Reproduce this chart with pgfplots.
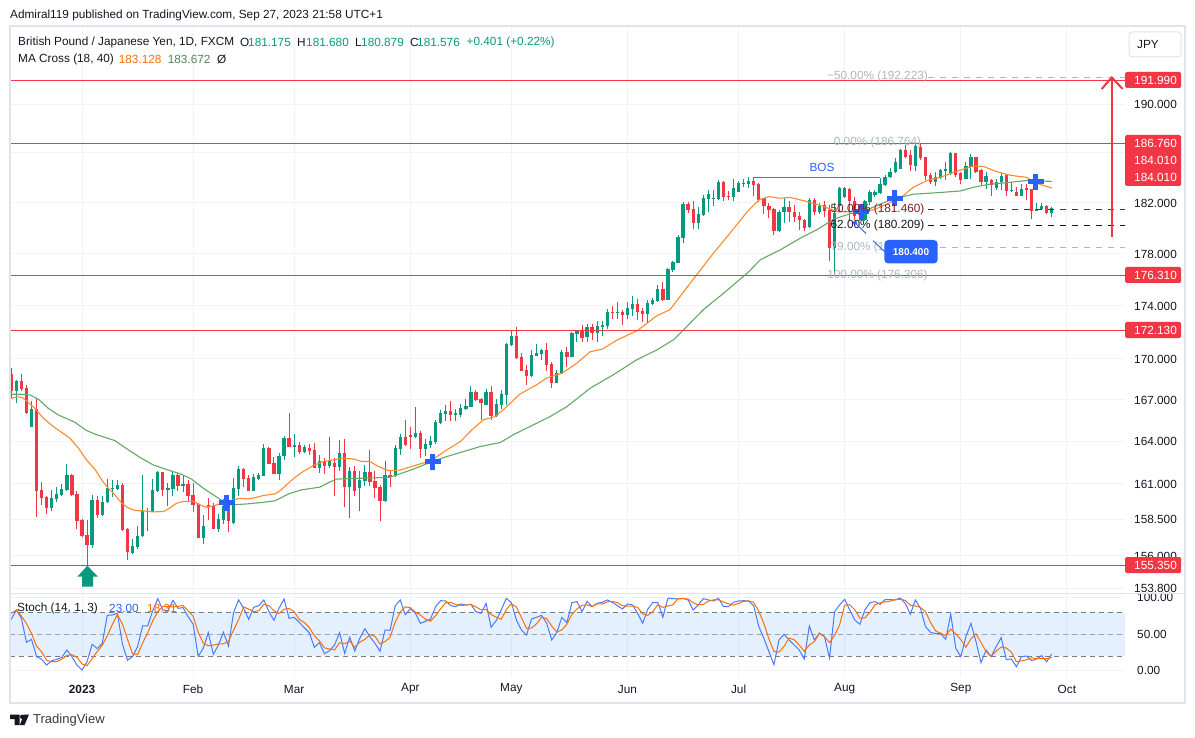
\documentclass[border=0pt]{standalone}
\usepackage{pgfplots}
\usepackage{pgfplotstable}
\usepackage{fontspec}
\setmainfont{Liberation Sans}
\pgfplotsset{compat=1.18}
\definecolor{up}{HTML}{089981}
\definecolor{dn}{HTML}{F23645}
\definecolor{maO}{HTML}{FF8A2B}
\definecolor{maG}{HTML}{66A866}
\definecolor{gridc}{HTML}{F0F3FA}
\definecolor{frame}{HTML}{E0E3EB}
\definecolor{tv}{HTML}{2962FF}
\definecolor{ink}{HTML}{131722}
\definecolor{fibg}{HTML}{B2B5BE}
\definecolor{fibr}{HTML}{801922}
\definecolor{stO}{HTML}{FF6D00}
\definecolor{dashg}{HTML}{787B86}
\pgfplotstableread{
i o h l c
-14 168.89 169.33 167.09 167.63
-13 167.66 168.44 166.78 168.37
-12 168.37 168.89 167.63 167.78
-11 167.85 168.08 165.96 166.01
-10 165.05 166.92 165.00 166.32
-9 166.32 167.02 158.64 160.50
-8 160.55 161.13 159.50 160.00
-7 160.05 160.10 158.90 159.29
-6 159.29 160.55 159.06 159.98
-5 159.91 160.78 159.70 160.26
-4 160.19 160.95 160.15 160.62
-3 160.55 162.38 160.50 161.61
-2 161.61 161.65 160.15 160.19
-1 160.26 160.48 157.84 158.39
0 158.46 158.50 157.30 157.38
1 157.43 158.46 155.35 156.73
2 156.73 160.19 156.55 159.84
3 159.84 160.08 158.58 158.76
4 158.76 160.12 158.70 159.68
5 159.66 161.32 159.61 160.69
6 160.64 161.21 160.05 160.69
7 160.62 161.25 160.55 160.88
8 160.90 161.06 157.70 157.77
9 157.84 157.90 155.71 156.28
10 156.16 157.15 156.12 156.66
11 156.59 158.05 156.46 157.35
12 157.31 161.61 157.28 159.10
13 159.10 159.27 157.66 159.06
14 159.01 161.30 158.99 160.55
15 160.48 161.84 160.41 161.77
16 161.77 161.79 160.08 160.55
17 160.57 161.02 159.45 160.66
18 160.64 161.79 160.08 161.61
19 161.61 161.72 160.50 160.83
20 160.85 161.49 160.38 160.97
21 160.97 161.25 159.73 160.12
22 160.19 161.02 158.97 159.50
23 159.56 159.60 157.20 157.22
24 157.22 158.80 156.80 158.05
25 159.50 159.96 158.46 159.31
26 159.45 159.61 157.80 157.84
27 157.84 158.87 157.61 158.53
28 158.46 159.91 158.16 159.45
29 159.73 160.03 157.59 158.39
30 158.21 161.37 158.18 160.66
31 160.64 162.24 160.15 162.03
32 162.03 162.12 160.74 161.32
33 161.42 161.56 160.46 160.48
34 160.48 161.68 160.46 161.46
35 161.30 161.72 161.25 161.61
36 161.53 163.80 161.49 163.51
37 163.51 163.61 162.36 162.38
38 162.48 162.90 161.65 161.68
39 161.68 163.13 161.25 162.95
40 162.95 164.38 162.66 164.23
41 164.23 166.01 163.56 163.59
42 163.59 164.52 162.88 163.73
43 163.73 163.92 163.09 163.23
44 163.23 163.73 163.13 163.59
45 163.51 163.80 163.00 163.30
46 163.37 163.85 162.08 162.12
47 162.12 163.02 161.72 162.59
48 162.59 162.78 161.65 162.24
49 162.24 164.28 162.12 162.66
50 162.48 162.78 160.08 162.19
51 162.17 164.09 161.89 163.16
52 163.16 164.16 159.31 160.78
53 160.78 162.19 158.62 161.89
54 161.89 162.24 160.12 160.48
55 160.66 161.89 159.04 161.25
56 161.18 162.31 160.83 161.82
57 161.82 163.37 160.83 161.11
58 161.18 161.89 160.00 160.71
59 160.76 160.90 158.35 159.77
60 159.77 162.55 159.66 161.58
61 161.61 161.84 160.78 161.44
62 161.49 163.73 161.44 163.49
63 163.44 164.50 163.02 164.31
64 164.31 165.54 163.66 163.73
65 164.45 164.98 163.44 164.31
66 164.28 166.47 164.23 164.57
67 164.59 164.74 162.83 163.44
68 163.44 164.14 162.95 163.80
69 163.73 164.38 163.51 164.02
70 163.92 165.53 163.80 165.39
71 165.31 166.25 165.24 166.03
72 165.99 166.61 165.41 166.18
73 166.18 166.90 165.46 165.89
74 165.89 166.32 165.46 166.03
75 165.89 166.68 165.77 166.39
76 166.32 167.04 166.25 166.54
77 166.49 168.00 166.47 167.56
78 167.56 167.71 166.92 166.97
79 167.04 167.11 165.53 166.78
80 166.61 167.78 166.59 167.56
81 167.56 168.00 165.48 165.82
82 165.82 167.04 165.75 166.68
83 166.61 167.71 166.32 167.41
84 167.34 171.18 166.61 171.11
85 171.04 172.16 170.96 171.71
86 171.71 172.39 170.00 170.07
87 170.14 170.44 169.09 169.11
88 169.18 169.55 168.08 168.74
89 168.74 170.66 168.67 170.29
90 170.22 171.11 170.20 170.44
91 170.36 170.73 169.92 170.66
92 170.66 171.18 169.11 169.55
93 169.63 169.77 167.86 168.22
94 168.22 169.18 168.20 168.96
95 168.89 170.66 168.87 170.51
96 170.51 170.89 169.41 170.14
97 170.14 172.01 170.12 171.94
98 171.86 172.16 171.26 172.09
99 172.09 172.54 171.26 171.56
100 171.63 172.61 171.26 172.39
101 172.39 172.61 171.41 171.94
102 171.94 172.84 171.26 172.46
103 172.39 172.84 171.71 172.54
104 172.46 173.74 172.24 173.52
105 173.52 173.97 172.99 173.44
106 173.44 174.27 172.99 173.52
107 173.52 173.67 172.54 173.29
108 173.29 174.27 172.99 173.82
109 173.74 174.73 173.22 174.12
110 174.12 174.50 172.91 173.52
111 173.59 173.82 172.76 173.37
112 173.37 174.42 172.69 174.19
113 174.12 174.58 174.04 174.42
114 174.34 175.58 174.27 175.27
115 175.27 175.81 174.34 174.42
116 174.42 176.89 174.40 176.82
117 176.74 177.43 176.58 177.35
118 177.28 179.46 177.26 179.30
119 179.22 182.05 178.83 181.90
120 181.90 182.05 181.19 181.42
121 181.50 182.13 179.93 180.40
122 180.40 181.66 179.93 181.11
123 180.99 182.61 180.97 182.37
124 182.29 183.01 181.27 182.69
125 182.29 183.01 181.74 182.37
126 182.29 183.81 182.21 183.65
127 183.65 183.73 182.13 182.45
128 182.53 182.93 182.21 182.45
129 182.45 183.89 182.13 183.17
130 182.85 183.73 182.83 183.57
131 183.49 183.89 183.25 183.57
132 183.49 184.05 183.17 183.73
133 183.73 184.05 182.53 183.41
134 183.49 183.54 182.05 182.21
135 182.37 182.40 181.11 181.69
136 181.74 181.95 180.80 181.42
137 181.48 181.55 179.46 179.77
138 179.77 181.42 179.64 181.29
139 181.24 182.34 180.38 181.63
140 181.63 182.08 180.45 181.24
141 181.29 181.82 180.43 180.90
142 180.95 181.29 179.85 180.59
143 180.64 180.69 179.80 180.00
144 180.06 182.40 180.00 182.21
145 182.21 182.34 181.03 181.29
146 181.29 181.95 181.11 181.76
147 181.82 182.08 180.90 181.35
148 181.42 181.82 177.44 178.41
149 178.41 181.95 176.31 181.16
150 181.69 183.23 181.24 183.15
151 182.42 183.28 182.34 183.15
152 183.09 183.15 180.51 182.08
153 182.08 182.48 180.64 180.95
154 181.69 181.82 180.51 181.03
155 180.64 182.21 180.51 182.08
156 182.03 183.02 181.82 182.88
157 182.61 183.02 182.48 182.88
158 182.75 183.95 182.67 183.47
159 183.42 184.22 183.34 184.09
160 184.03 184.76 183.95 184.49
161 184.49 185.56 184.40 185.29
162 184.74 186.29 184.68 186.23
163 186.23 186.64 185.55 185.69
164 185.83 186.23 184.55 185.01
165 184.93 186.72 184.55 186.56
166 186.51 186.76 185.42 185.55
167 185.64 185.70 183.84 184.11
168 184.19 184.33 183.51 183.65
169 183.65 184.47 183.30 184.06
170 183.98 184.74 183.92 184.60
171 184.55 185.28 183.84 184.74
172 184.33 186.07 184.25 186.02
173 185.96 186.02 184.06 184.19
174 184.33 184.47 183.51 183.84
175 183.92 185.28 183.90 184.93
176 184.87 185.91 183.92 185.64
177 185.64 185.69 184.33 184.47
178 184.60 184.74 183.38 183.65
179 183.65 184.47 183.11 184.11
180 183.79 183.92 182.56 183.38
181 183.19 183.92 182.97 183.65
182 183.65 184.33 182.97 184.11
183 184.19 184.25 182.56 182.91
184 182.91 183.65 182.83 183.02
185 182.83 183.24 182.50 182.56
186 182.56 183.51 182.51 183.11
187 183.16 183.46 182.21 182.97
188 183.05 183.10 180.73 181.36
189 181.36 181.94 181.31 181.47
190 181.47 181.94 181.40 181.73
191 181.73 181.78 181.10 181.15
192 181.175 181.68 180.879 181.576
}\candles
\pgfplotstableread{
i k d
-14 70.4 78.6
-13 83 83
-12 71.7 75
-11 39 64.6
-10 43 51.2
-9 19.4 33.8
-8 15.8 26.1
-7 8 14.4
-6 14 12.6
-5 15.8 12.6
-4 18.5 16.1
-3 28.5 20.9
-2 19.4 22.1
-1 8 18.6
0 1.2 9.5
1 12.6 7.3
2 36.3 16.7
3 30.4 26.4
4 37.6 34.8
5 75.8 47.9
6 76.3 63.2
7 78.6 76.9
8 36.7 63.9
9 14.4 43.2
10 19.4 23.5
11 33.1 22.3
12 61.3 37.9
13 61.3 51.9
14 82.2 68.3
15 98.6 80.7
16 83.1 88
17 82.2 88
18 96.3 87.2
19 85.4 88
20 86.3 89.3
21 74 81.9
22 63.6 74.6
23 19.9 52.5
24 30.8 38.1
25 52.2 34.3
26 22.6 35.2
27 35.4 36.7
28 52.6 36.9
29 34 40.7
30 79.5 55.4
31 96.8 70.1
32 85.4 87.2
33 70.4 84.2
34 86.8 80.9
35 89 82.1
36 96.8 90.9
37 80.8 88.9
38 69 82.2
39 85.4 78.4
40 98.1 84.2
41 71.7 85.1
42 73.1 81
43 66.3 70.4
44 59 66.1
45 52.2 59.2
46 32.2 47.8
47 38.5 41
48 23.5 31.4
49 27.6 29.9
50 35.4 28.8
51 52.2 38.4
52 24 37.2
53 45.8 40.7
54 27.2 32.3
55 44.5 39.2
56 57.6 43.1
57 46.7 49.6
58 37.6 47.3
59 26.7 37
60 55.8 40
61 55.4 46
62 88.6 66.6
63 96.8 80.3
64 76.7 87.4
65 85 86.2
66 78.6 80.1
67 64.9 76.2
68 67.6 70.4
69 70.8 67.8
70 87.7 75.4
71 95.8 84.8
72 95.4 93
73 89 93.4
74 87.7 90.7
75 91.3 89.3
76 90 89.7
77 90.8 90.7
78 80.8 87.2
79 78.6 83.4
80 92.2 83.9
81 59.5 76.8
82 68.6 73.4
83 83.1 70.4
84 99 83.6
85 93.1 91.7
86 69.5 87.2
87 55.8 72.8
88 49 58.1
89 70.8 58.5
90 73.1 64.3
91 75.8 73.2
92 64.9 71.3
93 42.2 60.9
94 52.2 53.1
95 73.1 55.8
96 65.8 63.7
97 93.1 77.3
98 94.5 84.5
99 80.8 89.5
100 95 90.1
101 87.7 87.8
102 92.2 91.6
103 93.6 91.2
104 96.8 94.2
105 93.6 94.7
106 89 93.1
107 84.5 89
108 91.3 88.3
109 90 88.6
110 78.6 86.6
111 64.9 77.8
112 84 75.8
113 93.1 80.7
114 93.6 90.2
115 73.1 86.6
116 99 88.6
117 98.6 90.2
118 98.1 98.6
119 99 98.6
120 96.8 98
121 83.1 93
122 90 90
123 98.6 90.6
124 96.8 95.1
125 95.4 96.9
126 99 97.1
127 87.7 94
128 87.7 91.5
129 93.6 89.7
130 95.4 92.2
131 95.8 94.9
132 95.4 95.5
133 88.6 93.3
134 60.4 81.5
135 44.5 64.5
136 26.3 43.7
137 8.5 26.4
138 42.2 25.7
139 49.9 33.5
140 42.2 44.8
141 35.4 42.5
142 28.5 35.4
143 16.3 26.7
144 61.3 35.4
145 42.2 39.9
146 51.3 51.6
147 46.7 46.7
148 17.6 38.5
149 80.8 48.4
150 90 62.8
151 97.7 89.5
152 83.1 90.3
153 69.5 83.4
154 63.6 72.1
155 83.1 72.1
156 93.1 79.9
157 94.5 90.2
158 90.8 92.8
159 97.2 94.2
160 97.2 95.1
161 96.8 97.1
162 99.5 97.8
163 92.2 96.2
164 77.2 89.6
165 96.8 88.7
166 85.4 86.5
167 60.4 80.9
168 52.6 66.1
169 50.8 54.6
170 50.8 51.4
171 43.1 48.2
172 77.2 57
173 30.8 50.4
174 19.4 42.5
175 46.7 32.3
176 64.9 43.7
177 39.9 50.5
178 11.3 38.7
179 28.5 26.6
180 19.4 19.7
181 33.1 27
182 45.4 32.6
183 15.3 31.3
184 16.3 25.7
185 5.8 12.5
186 19.4 13.8
187 20.3 15.2
188 14 17.9
189 16.3 16.9
190 20.8 17
191 12.6 16.6
192 23 18.31
}\stoch
\newcommand{\lab}[4]{\node[anchor=west,inner sep=0pt,text=#1] at (#2pt,-#3pt) {#4};}
\newcommand{\cen}[4]{\node[anchor=center,inner sep=0pt,text=#1] at (#2pt,-#3pt) {#4};}
\newcommand{\redbox}[3]{\fill[dn,rounded corners=1.5pt] (1125pt,-#1pt) rectangle (1181pt,-#2pt);}
\newcommand{\fsz}{\fontsize{11.8}{14}\selectfont}
\pgfplotsset{
 candleW/.style={draw=none,no markers,forget plot,
   error bars/.cd,y dir=plus,y explicit,error mark=none,
   error bar style={line width=1pt,color=#1}},
 candleB/.style={draw=none,no markers,forget plot,
   error bars/.cd,y dir=plus,y explicit,error mark=none,
   error bar style={line width=3.3pt,color=#1}},
 isup/.style={x filter/.expression={\thisrow{c}>=\thisrow{o}?x:nan}},
 isdn/.style={x filter/.expression={\thisrow{c}<\thisrow{o}?x:nan}},
 crossm/.style={only marks,mark=+,mark size=8pt,forget plot,
   mark options={draw=tv,line width=5pt}},
 lvl/.style={dn,line width=1.1pt,forget plot,no marks},
}
\begin{document}
\begin{tikzpicture}[every node/.style={font=\fsz,text=ink}]
\path[use as bounding box,fill=white] (0,0) rectangle (1195pt,-738pt);
\begin{axis}[
 at={(10pt,-593pt)},anchor=south west,scale only axis,
 width=1115pt,height=567pt,
 ymode=log,xmin=-14.26,xmax=206.5,ymin=153.48,ymax=196.6,
 axis line style={draw=none},
 major tick length=0pt,minor tick length=0pt,
 xtick={0,22,42,65,85,108,130,151,174,195},xticklabels={},
 ytick={190,186,182,178,174,170,167,164,161,158.5,156,153.8},
 yticklabels={190.000,,182.000,178.000,174.000,170.000,167.000,164.000,161.000,158.500,156.000,153.800},
 minor ytick={},
 yticklabel pos=right,
 y tick label style={font=\fsz,text=ink,inner sep=0pt,anchor=west,xshift=9pt,yshift=-0.5pt},
 grid=major,grid style={color=gridc,line width=1pt},
]
\addplot[crossm] coordinates {(28.65,159.65)(154.3,181.27)};
\addplot[isup,candleW=up] table[x=i,y=l,y error plus expr=\thisrow{h}-\thisrow{l}] {\candles};
\addplot[isdn,candleW=dn] table[x=i,y=l,y error plus expr=\thisrow{h}-\thisrow{l}] {\candles};
\addplot[isup,candleB=up] table[x=i,y=o,y error plus expr=\thisrow{c}-\thisrow{o}] {\candles};
\addplot[isdn,candleB=dn] table[x=i,y=c,y error plus expr=\thisrow{o}-\thisrow{c}] {\candles};
\addplot[maG,line width=1.1pt,no marks,forget plot] coordinates {
(-14,167.39)(-12.3,167.39)(-10.3,167.34)(-8.6,167.02)(-6.7,166.37)(-4.7,165.89)(-1.4,165.36)(.9,164.76)(2.9,164.45)(6.5,164.04)(9.2,163.37)(11.5,162.83)(14.1,162.31)(16.8,161.96)(19.4,161.68)(21.7,161.3)(24,160.66)(26,160.19)(28,159.73)(29.3,159.5)(32.6,159.56)(35.9,159.68)(38.2,159.77)(40.9,160.26)(43.5,160.55)(47.1,160.74)(48.8,161.06)(50.4,161.3)(53.1,161.35)(56.4,161.37)(61,161.44)(63,161.68)(65.3,161.96)(68.9,162.48)(72.2,162.9)(75.5,163.25)(78.8,163.61)(82.8,163.9)(85.4,164.45)(88.7,165.05)(92.7,165.77)(96,166.49)(100.6,167.83)(105.2,168.82)(109.8,169.92)(113.8,170.66)(117.1,171.41)(119.1,172.16)(123,173.67)(127,174.93)(131.7,176.48)(134.3,177.51)(138.2,178.28)(142.2,179.2)(145.5,179.85)(148.8,180.69)(152.1,181.11)(155.4,181.42)(159.3,182.08)(161.9,182.42)(164.6,182.67)(169.9,182.8)(173.9,182.93)(176.5,183.23)(179.8,183.47)(183.1,183.6)(187,183.76)(192,183.68)};
\addplot[maO,line width=1.1pt,no marks,forget plot] coordinates {
(-14,167.09)(-12.9,167.21)(-11.9,167.16)(-11,166.92)(-9,166.25)(-7.7,165.65)(-5.7,165.05)(-4,164.62)(-2.4,164.21)(-.7,163.49)(.9,162.66)(2.6,161.96)(3.9,161.25)(4.9,160.78)(6.5,160.19)(7.9,159.61)(9.2,159.27)(10.5,159.1)(12.1,159.08)(14.1,159.01)(16.1,159.04)(17.1,159.2)(18.7,159.61)(20.1,159.73)(22,159.73)(23.4,159.5)(24.7,159.33)(26,159.43)(27.7,159.61)(29,159.73)(30,159.84)(31.3,159.96)(32.9,159.91)(34.6,160.03)(35.9,160.15)(38.2,160.26)(39.2,160.48)(40.5,160.9)(42.2,161.44)(43.8,161.84)(45.8,162.26)(47.8,162.55)(49.8,162.66)(51.7,162.78)(53.7,162.73)(55.4,162.55)(57,162.55)(58.7,162.19)(60.7,161.89)(63,161.95)(65.6,162.24)(69,162.59)(72.2,163.37)(74.9,163.97)(77.2,164.81)(79.5,165.53)(81.8,165.77)(84.1,166.49)(86.7,167.41)(90,168.08)(92,168.57)(95,168.94)(98,169.68)(100.6,170.54)(103,170.71)(106,171.41)(110,172.11)(113.8,173.22)(116.4,173.67)(118.4,174.68)(121.7,176.35)(125,178.02)(128.3,179.59)(131.7,181.29)(134,182.21)(136,182.47)(138.2,182.34)(140.2,182.42)(143.5,182.08)(146.8,181.69)(149.5,181.29)(152.7,181.29)(156.7,181.42)(160,182)(162,182.34)(164.6,183.23)(167.3,183.76)(169.9,184.03)(172.5,184.41)(174.5,184.68)(176.5,184.94)(178.5,184.89)(181.1,184.49)(183.8,184.19)(187,184.03)(188.7,183.6)(192,183.15)};
\addplot[crossm] coordinates {(69.4,162.54)(160.9,182.34)(188.85,183.65)};
\addplot[lvl] coordinates {(-14.26,191.99)(206.5,191.99)};
\addplot[lvl] coordinates {(-14.26,186.76)(206.5,186.76)};
\addplot[lvl] coordinates {(-14.26,176.31)(206.5,176.31)};
\addplot[lvl] coordinates {(-14.26,172.13)(206.5,172.13)};
\addplot[lvl] coordinates {(-14.26,155.35)(206.5,155.35)};
\addplot[lvl] coordinates {(132.9,184.01)(158,184.01)};
\addplot[fibg,line width=0.9pt,no marks,forget plot,dash pattern=on 6pt off 6pt] coordinates {(167.4,192.223)(206.5,192.223)};
\addplot[fibr,line width=0.9pt,no marks,forget plot,dash pattern=on 6pt off 6pt] coordinates {(167.4,181.46)(206.5,181.46)};
\addplot[ink,line width=0.9pt,no marks,forget plot,dash pattern=on 6pt off 6pt] coordinates {(167.4,180.209)(206.5,180.209)};
\addplot[fibg,line width=0.9pt,no marks,forget plot,dash pattern=on 6pt off 6pt] coordinates {(167.4,178.502)(206.5,178.502)};
\end{axis}
\begin{axis}[
 at={(10pt,-677pt)},anchor=south west,scale only axis,
 width=1115pt,height=83pt,
 xmin=-14.26,xmax=206.5,ymin=-8.32,ymax=104.9,
 axis line style={draw=none},
 major tick length=0pt,minor tick length=0pt,
 xtick={0,22,42,65,85,108,130,151,174,195},
 xticklabels={\textbf{2023},Feb,Mar,Apr,May,Jun,Jul,Aug,Sep,Oct},
 x tick label style={font=\fsz,text=ink,inner sep=0pt,anchor=center,yshift=-12pt},
 ytick={0,50,100},yticklabels={0.00,50.00,100.00},
 yticklabel pos=right,
 y tick label style={font=\fsz,text=ink,inner sep=0pt,anchor=west,xshift=12pt},
 grid=major,grid style={color=gridc,line width=1pt},
]
\addplot[fill=blue!55!cyan,fill opacity=0.1,draw=none,forget plot] coordinates {(-14.26,20)(206.5,20)(206.5,80)(-14.26,80)} -- cycle;
\addplot[dashg,line width=0.9pt,no marks,forget plot,dash pattern=on 5pt off 4pt] coordinates {(-14.26,80)(206.5,80)};
\addplot[dashg!70,line width=0.9pt,no marks,forget plot,dash pattern=on 5pt off 4pt] coordinates {(-14.26,50)(206.5,50)};
\addplot[dashg,line width=0.9pt,no marks,forget plot,dash pattern=on 5pt off 4pt] coordinates {(-14.26,20)(206.5,20)};
\addplot[tv!85,line width=1pt,no marks,forget plot] table[x=i,y=k] {\stoch};
\addplot[stO,line width=1pt,no marks,forget plot] table[x=i,y=d] {\stoch};
\end{axis}
\draw[frame,line width=1.6pt] (10pt,-26pt) rectangle (1185pt,-703pt);
\draw[frame,line width=1.4pt] (10pt,-593.5pt) -- (1185pt,-593.5pt);
\lab{ink}{10}{15}{Admiral119 published on TradingView.com, Sep 27, 2023 21:58 UTC+1}
\lab{ink}{18}{42}{British Pound / Japanese Yen, 1D, FXCM}
\lab{ink}{240}{42}{O}\lab{up}{248}{42}{181.175}
\lab{ink}{297}{42}{H}\lab{up}{306}{42}{181.680}
\lab{ink}{355}{42}{L}\lab{up}{361}{42}{180.879}
\lab{ink}{410}{42}{C}\lab{up}{417}{42}{181.576}
\lab{up}{466.5}{42}{+0.401 (+0.22\%)}
\lab{ink}{18}{59}{MA Cross (18, 40)}
\lab{stO}{118.6}{59}{183.128}
\lab{maG!80!black}{167.6}{59}{183.672}
\lab{ink}{217}{59}{Ø}
\lab{ink}{17}{608}{Stoch (14, 1, 3)}
\lab{tv}{109}{608}{23.00}
\lab{stO}{147}{608}{18.31}
\draw[frame,fill=white,rounded corners=3pt,line width=1pt] (1129pt,-32pt) rectangle (1181pt,-57pt);
\cen{ink}{1148}{44.5}{JPY}
\redbox{72}{88}{}\lab{white}{1134}{80.3}{191.990}
\fill[dn,rounded corners=1.5pt] (1125pt,-135pt) rectangle (1181pt,-186pt);
\lab{white}{1134}{143.3}{186.760}
\lab{white}{1134}{160.5}{184.010}
\lab{white}{1134}{177.5}{184.010}
\redbox{267}{283}{}\lab{white}{1134}{275.3}{176.310}
\redbox{322}{338}{}\lab{white}{1134}{330.3}{172.130}
\redbox{557}{573}{}\lab{white}{1134}{565.3}{155.350}
\cen{fibg}{877.5}{76.5}{−50.00\% (192.223)}
\cen{fibg}{877.5}{142.5}{0.00\% (186.764)}
\cen{fibr}{877.5}{209}{50.00\% (181.460)}
\cen{ink}{877.5}{225}{62.00\% (180.209)}
\cen{fibg}{877.5}{247}{79.00\% (178.502)}
\cen{fibg}{877.5}{275}{100.00\% (176.306)}
\cen{tv}{822}{167}{BOS}
\draw[tv,line width=0.9pt] (855pt,-222.7pt) -- (866pt,-233.5pt);
\fill[tv] (855pt,-222.7pt) circle (2pt);
\draw[tv,line width=0.9pt] (873pt,-240.7pt) -- (885pt,-252pt);
\fill[tv,rounded corners=4pt] (884.3pt,-240pt) rectangle (937.7pt,-263.5pt);
\node[anchor=center,inner sep=0pt,text=white,font=\fontsize{10}{12}\selectfont\bfseries] at (911pt,-252pt) {180.400};
\draw[draw=dn,line width=2pt] (1111.7pt,-237.5pt) -- (1111.7pt,-78pt);
\draw[draw=dn,line width=2pt] (1101.7pt,-89pt) -- (1111.7pt,-77.5pt) -- (1122.7pt,-89pt);
\fill[up] (87.3pt,-565.7pt) -- (98pt,-576.7pt) -- (93pt,-576.7pt) -- (93pt,-586.7pt) -- (82pt,-586.7pt) -- (82pt,-576.7pt) -- (77.3pt,-576.7pt) -- cycle;
\fill[ink] (10pt,-714.5pt) -- (19.5pt,-714.5pt) -- (19.5pt,-725pt) -- (14.5pt,-725pt) -- (14.5pt,-719pt) -- (10pt,-719pt) -- cycle;
\fill[ink] (22.2pt,-716.8pt) circle (2.2pt);
\fill[ink] (24pt,-714.5pt) -- (29pt,-714.5pt) -- (24.5pt,-725pt) -- (19.8pt,-725pt) -- cycle;
\node[anchor=west,inner sep=0pt,text=ink!85,font=\fontsize{13}{15}\selectfont] at (33pt,-720pt) {TradingView};
\end{tikzpicture}
\end{document}
